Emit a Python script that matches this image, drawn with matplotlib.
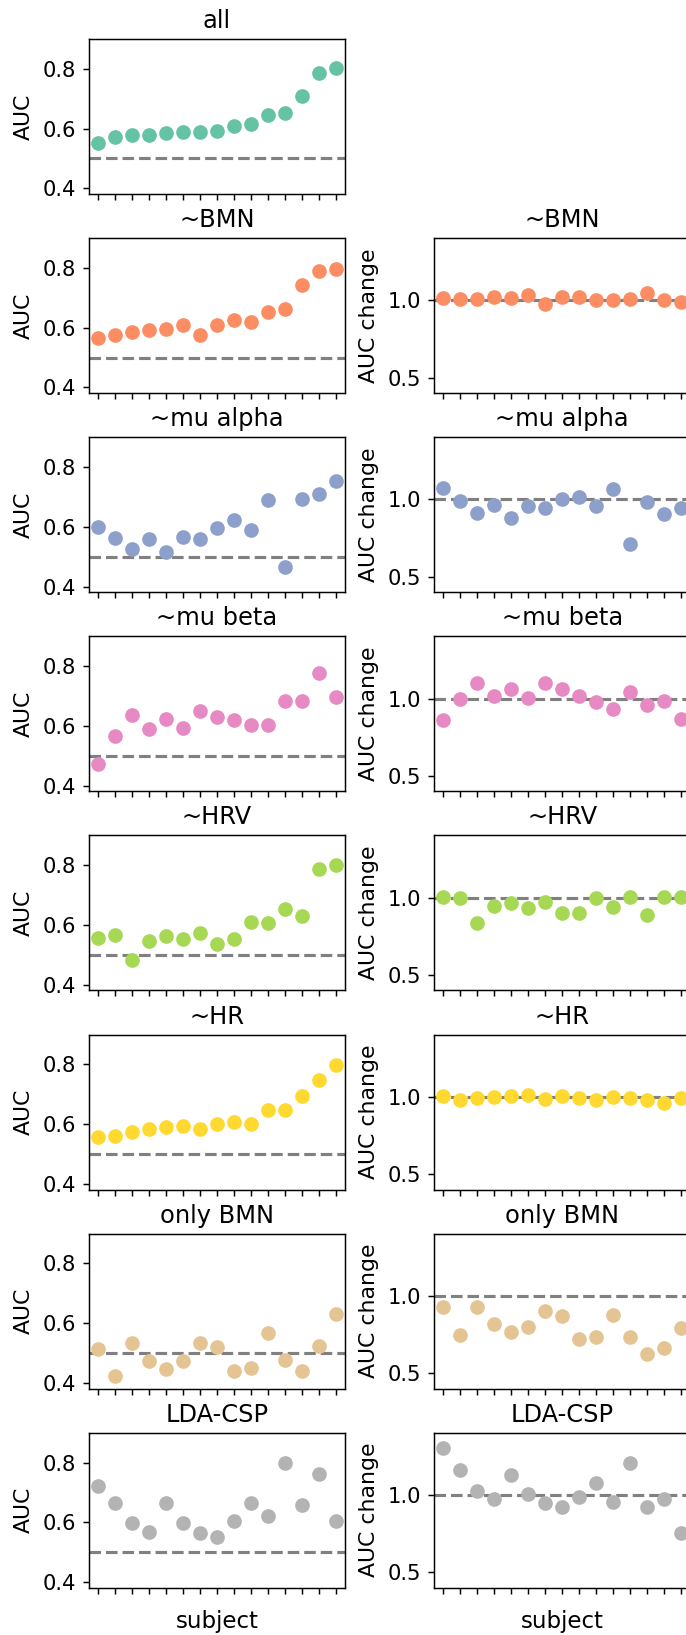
import numpy as np
import matplotlib
matplotlib.use('Agg')
import matplotlib.pyplot as plt

# AUC per subject for each feature set, and ratio to the full model
titles = ['all', '~BMN', '~mu alpha', '~mu beta', '~HRV', '~HR', 'only BMN', 'LDA-CSP']
colors = ['#66c2a5', '#fc8d62', '#8da0cb', '#e78ac3', '#a6d854', '#ffd92f', '#e5c494', '#b3b3b3']
n_subjects = 15

auc_all = [0.553, 0.571, 0.579, 0.579, 0.585, 0.589, 0.589, 0.593, 0.610, 0.616,
           0.647, 0.653, 0.709, 0.785, 0.802]
auc_no_bmn = [0.565, 0.574, 0.585, 0.592, 0.594, 0.610, 0.576, 0.609, 0.627, 0.618,
              0.654, 0.661, 0.744, 0.789, 0.797]
auc_no_alpha = [0.599, 0.563, 0.527, 0.560, 0.516, 0.566, 0.560, 0.596, 0.624, 0.588,
                0.691, 0.467, 0.693, 0.710, 0.755]
auc_no_beta = [0.473, 0.566, 0.637, 0.589, 0.622, 0.593, 0.649, 0.631, 0.621, 0.602,
               0.602, 0.685, 0.685, 0.776, 0.697]
auc_no_hrv = [0.558, 0.567, 0.483, 0.547, 0.564, 0.553, 0.573, 0.538, 0.553, 0.611,
              0.607, 0.655, 0.630, 0.787, 0.801]
auc_no_hr = [0.557, 0.560, 0.575, 0.582, 0.590, 0.594, 0.584, 0.601, 0.606, 0.601,
             0.648, 0.648, 0.694, 0.749, 0.798]
auc_only_bmn = [0.512, 0.422, 0.534, 0.473, 0.447, 0.473, 0.534, 0.521, 0.440, 0.450,
                0.566, 0.477, 0.439, 0.522, 0.631]
auc_lda_csp = [0.722, 0.663, 0.596, 0.566, 0.664, 0.599, 0.565, 0.552, 0.606, 0.663,
               0.622, 0.799, 0.659, 0.763, 0.603]

change_no_bmn = [1.017, 1.009, 1.011, 1.019, 1.013, 1.032, 0.974, 1.019, 1.022, 1.004,
                 1.004, 1.006, 1.045, 1.004, 0.991]
change_no_alpha = [1.077, 0.989, 0.910, 0.966, 0.882, 0.955, 0.944, 1.002, 1.015, 0.955,
                   1.067, 0.715, 0.981, 0.903, 0.942]
change_no_beta = [0.860, 0.996, 1.103, 1.017, 1.063, 1.002, 1.099, 1.063, 1.015, 0.981,
                  0.935, 1.045, 0.959, 0.983, 0.871]
change_no_hrv = [1.006, 1.000, 0.834, 0.944, 0.968, 0.933, 0.974, 0.899, 0.903, 1.000,
                 0.938, 1.006, 0.888, 1.004, 1.002]
change_no_hr = [1.006, 0.978, 0.994, 1.000, 1.006, 1.009, 0.987, 1.004, 0.989, 0.976,
                1.000, 0.994, 0.978, 0.957, 0.994]
change_only_bmn = [0.925, 0.744, 0.925, 0.819, 0.765, 0.800, 0.901, 0.871, 0.724, 0.731,
                   0.875, 0.731, 0.621, 0.664, 0.789]
change_lda_csp = [1.303, 1.159, 1.026, 0.972, 1.131, 1.006, 0.951, 0.921, 0.987, 1.077,
                  0.953, 1.208, 0.925, 0.972, 0.753]

aucs = [auc_all, auc_no_bmn, auc_no_alpha, auc_no_beta, auc_no_hrv, auc_no_hr,
        auc_only_bmn, auc_lda_csp]
changes = [None, change_no_bmn, change_no_alpha, change_no_beta, change_no_hrv,
           change_no_hr, change_only_bmn, change_lda_csp]

plt.rcParams['font.size'] = 11
dpi = 132
W, H = 686, 1635
fig = plt.figure(figsize=(W / dpi, H / dpi), dpi=dpi)

ax_w, ax_h = 255.5, 155
row_top0, row_step = 39, 199.1
left_x, right_x = 89, 434.4
subjects = np.arange(n_subjects)


def format_axis(ax, title, ylabel, last):
    ax.set_title(title)
    ax.set_ylabel(ylabel, fontsize=12, labelpad=5)
    ax.set_xlim(-0.5, n_subjects - 0.5)
    ax.set_xticks(subjects)
    ax.set_xticklabels([])
    ax.tick_params(labelsize=11.5)
    if last:
        ax.set_xlabel('subject', fontsize=12.5, labelpad=5)


for i, title in enumerate(titles):
    top = row_top0 + row_step * i
    bottom = 1 - (top + ax_h) / H
    last = i == len(titles) - 1

    ax = fig.add_axes([left_x / W, bottom, ax_w / W, ax_h / H])
    ax.axhline(0.5, color='gray', linestyle='--', linewidth=1.7, zorder=1)
    ax.scatter(subjects, aucs[i], s=64, color=colors[i], linewidths=0, zorder=2)
    ax.set_ylim(0.381, 0.9)
    ax.set_yticks([0.4, 0.6, 0.8])
    format_axis(ax, title, 'AUC', last)

    if changes[i] is None:
        continue
    ax2 = fig.add_axes([right_x / W, bottom, ax_w / W, ax_h / H])
    ax2.axhline(1.0, color='gray', linestyle='--', linewidth=1.7, zorder=1)
    ax2.scatter(subjects, changes[i], s=64, color=colors[i], linewidths=0, zorder=2)
    ax2.set_ylim(0.4, 1.403)
    ax2.set_yticks([0.5, 1.0])
    format_axis(ax2, title, 'AUC change', last)

fig.savefig('out.png', dpi=dpi)
